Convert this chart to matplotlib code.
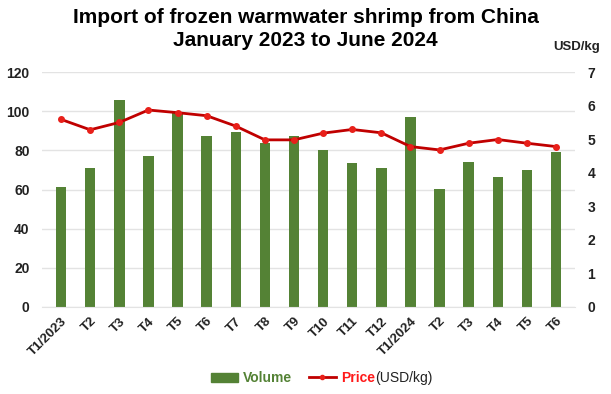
import matplotlib

matplotlib.use("Agg")

import matplotlib.pyplot as plt
from matplotlib.lines import Line2D
from matplotlib.patches import Patch


MONTHS = ["T1/2023", "T2", "T3", "T4", "T5", "T6", "T7", "T8", "T9",
          "T10", "T11", "T12", "T1/2024", "T2", "T3", "T4", "T5", "T6"]

VOLUME = [61.3, 70.8, 105.7, 77.2, 99.0, 87.3, 89.2, 83.8, 87.3,
          80.4, 73.8, 70.9, 97.0, 60.3, 74.0, 66.4, 70.0, 79.0]

PRICE = [5.59, 5.28, 5.50, 5.87, 5.79, 5.70, 5.39, 4.98, 4.98,
         5.18, 5.29, 5.19, 4.78, 4.68, 4.88, 4.99, 4.88, 4.78]

BAR_COLOR = "#548235"
LINE_COLOR = "#c00000"
MARKER_COLOR = "#e8201a"
GRID_COLOR = "#e3e3e3"
TEXT_COLOR = "#222222"

plt.rcParams["font.family"] = ["Liberation Sans", "DejaVu Sans"]

fig = plt.figure(figsize=(6.11, 3.94), dpi=100)
ax = fig.add_axes([0.069, 0.221, 0.872, 0.596])
ax2 = ax.twinx()

x = list(range(len(MONTHS)))
ax.bar(x, VOLUME, width=0.36, color=BAR_COLOR, zorder=2)
ax2.plot(x, PRICE, color=LINE_COLOR, linewidth=2, marker="o", markersize=4,
         markerfacecolor=MARKER_COLOR, markeredgecolor=MARKER_COLOR, zorder=3)

ax.set_xlim(-0.65, len(MONTHS) - 0.35)
ax.set_ylim(0, 120)
ax.set_yticks(range(0, 121, 20))
ax2.set_ylim(0, 7)
ax2.set_yticks(range(0, 8))

ax.grid(axis="y", color=GRID_COLOR, linewidth=1, zorder=0)
ax.set_axisbelow(True)
for a in (ax, ax2):
    for side in ("top", "left", "right"):
        a.spines[side].set_visible(False)
    a.spines["bottom"].set_color(GRID_COLOR)
    a.tick_params(length=0, labelsize=10, colors=TEXT_COLOR)
ax2.spines["bottom"].set_visible(False)

ax.tick_params(axis="y", pad=9)
ax2.tick_params(axis="y", pad=9)
ax.set_xticks(x)
ax.set_xticklabels(MONTHS, rotation=45, ha="right", rotation_mode="anchor",
                   fontweight="bold", fontsize=9.5)
ax.tick_params(axis="x", pad=6)
for lbl in ax.get_yticklabels() + ax2.get_yticklabels():
    lbl.set_fontweight("bold")

# two-line title, centred over the whole figure
fig.text(0.5, 0.98, "Import of frozen warmwater shrimp from China\nJanuary 2023 to June 2024",
         ha="center", va="top", fontsize=15, fontweight="bold", linespacing=1.3)
fig.text(0.982, 0.88, "USD/kg", ha="right", va="center", fontsize=9.5,
         fontweight="bold", color=TEXT_COLOR)

handles = [
    Patch(facecolor=BAR_COLOR, edgecolor=BAR_COLOR),
    Line2D([], [], color=LINE_COLOR, linewidth=2, marker="o", markersize=3,
           markerfacecolor=MARKER_COLOR, markeredgecolor=MARKER_COLOR),
]
leg = fig.legend(handles, ["Volume", "Price"], loc="center", ncol=2,
                 bbox_to_anchor=(0.48, 0.04), frameon=False, fontsize=10,
                 handlelength=1.9, handletextpad=0.4, columnspacing=1.2)
for txt, col in zip(leg.get_texts(), [BAR_COLOR, "#ff1a1a"]):
    txt.set_color(col)
    txt.set_fontweight("bold")

# unit text sits right after the red "Price" label
fig.canvas.draw()
renderer = fig.canvas.get_renderer()
bb = leg.get_texts()[1].get_window_extent(renderer)
bb = bb.transformed(fig.transFigure.inverted())
fig.text(bb.x1, (bb.y0 + bb.y1) / 2, "(USD/kg)", ha="left", va="center",
         fontsize=10, color=TEXT_COLOR)

fig.savefig("out.png", dpi=100)
